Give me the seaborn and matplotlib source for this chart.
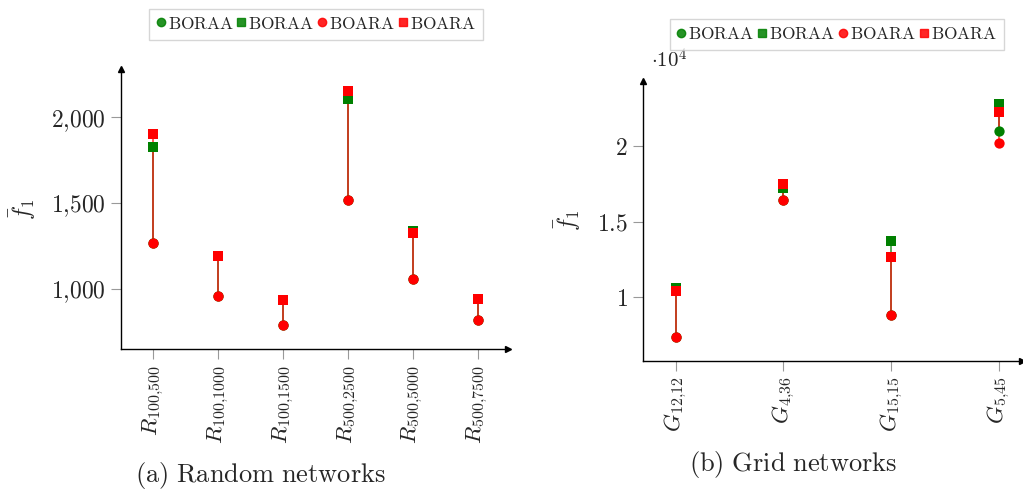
import numpy as np
import pandas as pd
import matplotlib
matplotlib.use("Agg")
import matplotlib.pyplot as plt
import seaborn as sns
from matplotlib.lines import Line2D

sns.set_theme(style="white")
plt.rcParams['mathtext.fontset'] = 'cm'
plt.rcParams['font.family'] = ['DejaVu Serif']

# ---------------- data ----------------
rand_labels = [r"$R_{100{,}500}$", r"$R_{100{,}1000}$", r"$R_{100{,}1500}$",
               r"$R_{500{,}2500}$", r"$R_{500{,}5000}$", r"$R_{500{,}7500}$"]
rand_boraa_circle = [1266, 955, 787, 1517, 1057, 819]
rand_boraa_square = [1825, 1190, 934, 2108, 1335, 938]
rand_boara_circle = [1266, 955, 787, 1517, 1057, 819]
rand_boara_square = [1901, 1194, 936, 2153, 1328, 940]
rand_yticks = [1000, 1500, 2000]
rand_yticklabels = [r"$1{,}000$", r"$1{,}500$", r"$2{,}000$"]

grid_labels = [r"$G_{12{,}12}$", r"$G_{4{,}36}$", r"$G_{15{,}15}$", r"$G_{5{,}45}$"]
grid_boraa_circle = [0.731, 1.642, 0.877, 2.104]
grid_boraa_square = [1.060, 1.721, 1.368, 2.285]
grid_boara_circle = [0.731, 1.642, 0.877, 2.022]
grid_boara_square = [1.038, 1.748, 1.266, 2.228]
grid_yticks = [1.0, 1.5, 2.0]
grid_yticklabels = [r"$1$", r"$1.5$", r"$2$"]

legend_labels = [r"$\mathrm{BORAA}$", r"$\mathrm{BORAA}$", r"$\mathrm{BOARA}$", r"$\mathrm{BOARA}$"]

GREEN = "#008000"
RED = "#ff0000"

fig = plt.figure(figsize=(10.23, 4.91), dpi=100)
axL = fig.add_axes([0.1186, 0.289, 0.378, 0.570])
axR = fig.add_axes([0.6288, 0.265, 0.370, 0.571])


def draw(ax, labels, bc, bs, rc, rs):
    x = np.arange(len(labels))
    # vertical ranges
    ax.vlines(x, bc, bs, color=GREEN, lw=1.2, alpha=0.75, zorder=2)
    ax.vlines(x, rc, rs, color=RED, lw=1.2, alpha=0.75, zorder=2)
    df = pd.DataFrame({"x": x, "bc": bc, "bs": bs, "rc": rc, "rs": rs})
    sns.scatterplot(data=df, x="x", y="bc", ax=ax, marker="o", color=GREEN, s=55,
                    linewidth=0, zorder=3)
    sns.scatterplot(data=df, x="x", y="bs", ax=ax, marker="s", color=GREEN, s=50,
                    linewidth=0, zorder=3)
    sns.scatterplot(data=df, x="x", y="rc", ax=ax, marker="o", color=RED, s=55,
                    linewidth=0, zorder=4)
    sns.scatterplot(data=df, x="x", y="rs", ax=ax, marker="s", color=RED, s=50,
                    linewidth=0, zorder=4)
    ax.set_xticks(x)
    ax.set_xticklabels(labels, rotation=90, fontsize=16.5)
    ax.set_xlabel("")
    ax.set_ylabel(r"$\bar{f}_1$", fontsize=17)
    for s in ["top", "right"]:
        ax.spines[s].set_visible(False)
    for s in ["left", "bottom"]:
        ax.spines[s].set_color("black")
        ax.spines[s].set_linewidth(1.0)
    ax.tick_params(axis="both", which="both", direction="out", length=7,
                   width=0.8, color="#999999", pad=4, bottom=True, left=True)
    # axis arrows
    ax.plot(1, 0, ">", transform=ax.transAxes, color="black", ms=4, clip_on=False)
    ax.plot(0, 1, "^", transform=ax.transAxes, color="black", ms=4, clip_on=False)


draw(axL, rand_labels, rand_boraa_circle, rand_boraa_square,
     rand_boara_circle, rand_boara_square)
axL.set_xlim(-0.49, 5.47)
axL.set_ylim(648, 2281)
axL.set_yticks(rand_yticks)
axL.set_yticklabels(rand_yticklabels, fontsize=17)
axL.yaxis.set_label_coords(-0.215, 0.5)

draw(axR, grid_labels, grid_boraa_circle, grid_boraa_square,
     grid_boara_circle, grid_boara_square)
axR.set_xlim(-0.30, 3.21)
axR.set_ylim(0.573, 2.438)
axR.set_yticks(grid_yticks)
axR.set_yticklabels(grid_yticklabels, fontsize=17)
axR.yaxis.set_label_coords(-0.158, 0.5)
axR.text(0.02, 1.03, r"$\cdot 10^4$", transform=axR.transAxes, fontsize=15,
         ha="left", va="bottom")


def legend(anchor):
    handles = [
        Line2D([], [], marker="o", ls="", color=GREEN, alpha=0.85, ms=6),
        Line2D([], [], marker="s", ls="", color=GREEN, alpha=0.85, ms=6),
        Line2D([], [], marker="o", ls="", color=RED, alpha=0.85, ms=6),
        Line2D([], [], marker="s", ls="", color=RED, alpha=0.85, ms=6),
    ]
    lg = fig.legend(handles, legend_labels, loc="center", bbox_to_anchor=anchor,
                    ncol=4, fontsize=12.5, frameon=True, fancybox=False,
                    handlelength=0.5, handletextpad=0.15, columnspacing=0.2,
                    borderpad=0.4, edgecolor="#cccccc")
    lg.get_frame().set_linewidth(1.0)


legend((0.309, 0.951))
legend((0.818, 0.929))

fig.text(0.255, 0.032, r"$\mathrm{(a)\ Random\ networks}$", ha="center", va="center", fontsize=19)
fig.text(0.775, 0.053, r"$\mathrm{(b)\ Grid\ networks}$", ha="center", va="center", fontsize=19)

fig.savefig("out.png", dpi=100)
